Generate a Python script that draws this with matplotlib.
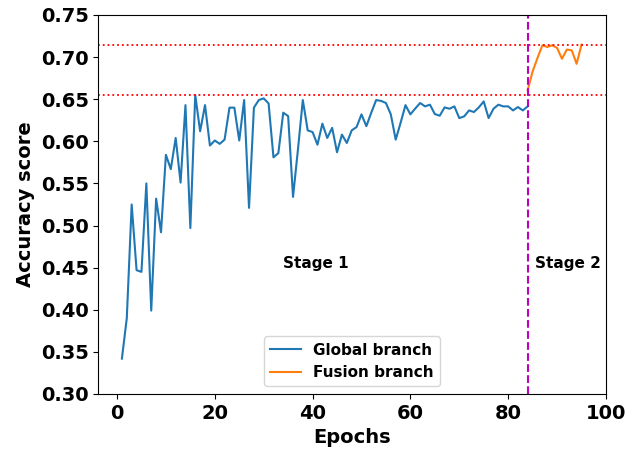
import matplotlib
matplotlib.use("Agg")
import matplotlib.pyplot as plt

# ================= DADOS =================
global_epochs = list(range(1, 85))
global_acc = [
    0.342, 0.390, 0.525, 0.447, 0.445, 0.550, 0.399, 0.532, 0.492, 0.584,
    0.567, 0.604, 0.551, 0.643, 0.497, 0.655, 0.612, 0.643, 0.595, 0.601,
    0.597, 0.602, 0.640, 0.640, 0.601, 0.649, 0.521, 0.640, 0.649, 0.651,
    0.645, 0.581, 0.586, 0.634, 0.630, 0.534, 0.590, 0.649, 0.613, 0.611,
    0.596, 0.621, 0.604, 0.616, 0.587, 0.608, 0.598, 0.613, 0.617, 0.632,
    0.618, 0.634, 0.649, 0.648, 0.6455, 0.632, 0.602, 0.622, 0.643, 0.632,
    0.639, 0.6455, 0.6415, 0.6435, 0.6324, 0.6304, 0.6403, 0.6387, 0.6415, 0.6276,
    0.6296, 0.6367, 0.6348, 0.6403, 0.6474, 0.6276, 0.6387, 0.6435, 0.6415, 0.6415,
    0.6367, 0.6407, 0.6367, 0.6415,
]

fusion_epochs = list(range(84, 96))
fusion_acc = [0.661, 0.683, 0.699, 0.714, 0.712, 0.714, 0.711, 0.698, 0.709, 0.708, 0.692, 0.7148]

stage_split = 84
x_ticks = [0, 20, 40, 60, 80, 100]
y_ticks = [0.30, 0.35, 0.40, 0.45, 0.50, 0.55, 0.60, 0.65, 0.70, 0.75]

# ================= ESTILO =================
plt.rcParams['font.weight'] = 'bold'
plt.rcParams['axes.labelweight'] = 'bold'

# ================= FIGURA =================
fig = plt.figure(figsize=(6.4, 4.49), dpi=100)
ax = fig.add_axes([0.1538, 0.1225, 0.793, 0.8441])

ax.plot(global_epochs, global_acc, color='#1f77b4', lw=1.5, label="Global branch")
ax.plot(fusion_epochs, fusion_acc, color='#ff7f0e', lw=1.5, label="Fusion branch")

ax.axhline(max(global_acc), color='r', ls=':', lw=1.3)
ax.axhline(max(fusion_acc), color='r', ls=':', lw=1.3)
ax.axvline(stage_split, color='m', ls='--', lw=1.5)

ax.text(34, 0.45, "Stage 1", fontsize=11, fontweight='bold')
ax.text(85.5, 0.45, "Stage 2", fontsize=11, fontweight='bold')

ax.set_xlim(-3.8, 100)
ax.set_ylim(0.30, 0.75)
ax.set_xticks(x_ticks)
ax.set_yticks(y_ticks)
ax.set_yticklabels([f"{v:.2f}" for v in y_ticks])
ax.tick_params(labelsize=14)
ax.set_xlabel("Epochs", fontsize=14)
ax.set_ylabel("Accuracy score", fontsize=14)
ax.legend(loc='lower center', prop={'size': 11, 'weight': 'bold'})

fig.savefig("out.png", dpi=100)
